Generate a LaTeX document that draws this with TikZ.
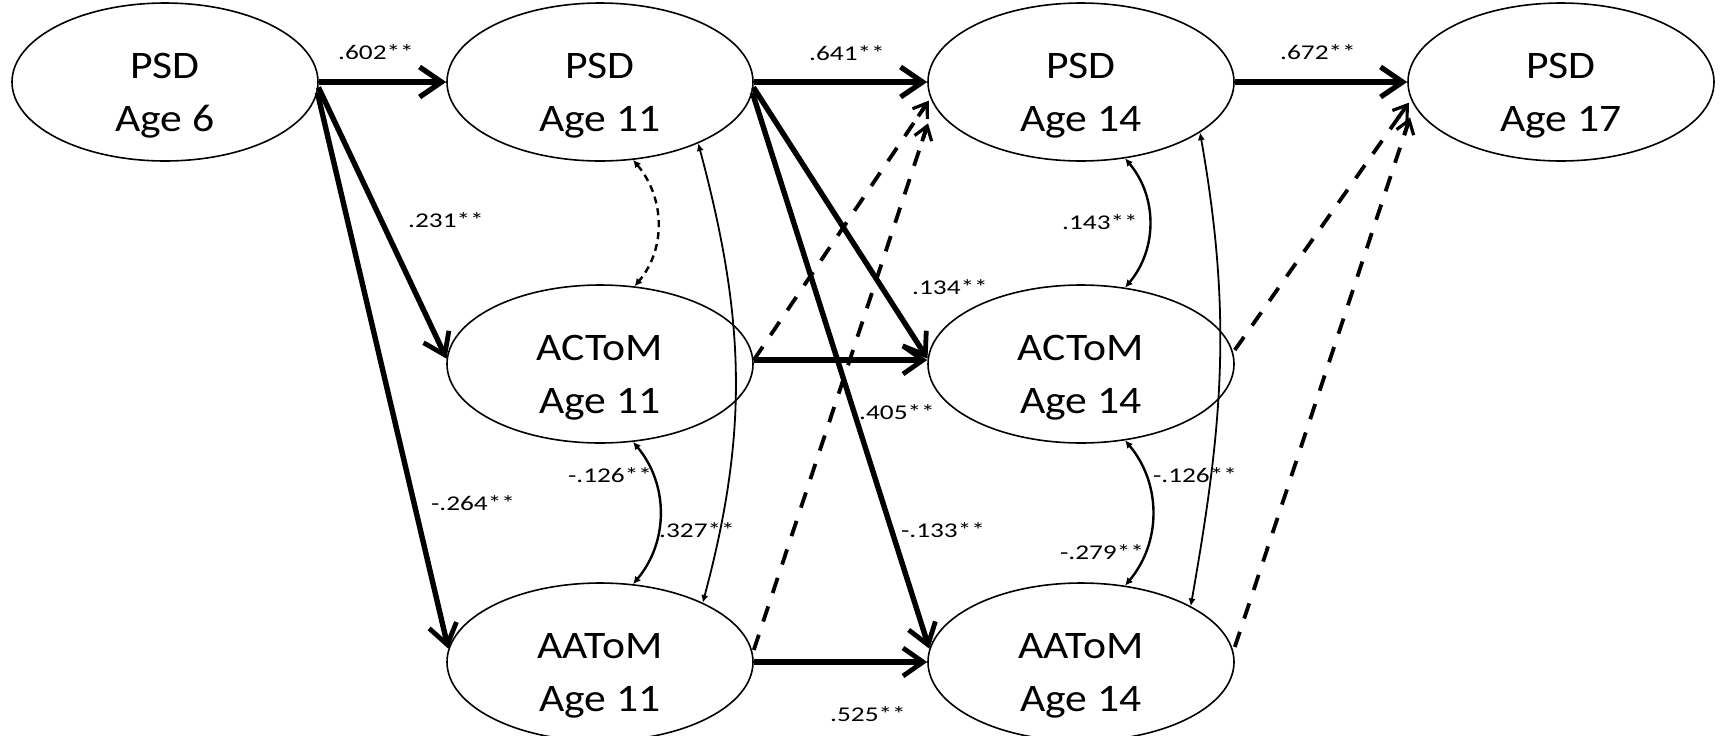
\documentclass[tikz,border=0pt]{standalone}
\usepackage{fontspec}
\setmainfont{Carlito}
\newfontfamily\nodefont{Carlito}[FakeStretch=1.12]
\newfontfamily\labfont{Carlito}[FakeStretch=1.3]
\usetikzlibrary{shapes.geometric,arrows.meta,decorations.markings}
\newcommand\twolines[2]{\rule{0pt}{26pt}#1\\#2}
\begin{document}
\begin{tikzpicture}[x=0.5pt,y=-0.5pt,
  var/.style={ellipse,draw,fill=white,line width=0.8pt,minimum width=153pt,minimum height=71pt,
    inner sep=0pt,align=center,font=\nodefont\fontsize{19.5}{26.5}\selectfont},
  lab/.style={font=\labfont\fontsize{10.5}{12}\selectfont,inner sep=0pt},
  bigarr/.style={line width=3.2pt,-{Straight Barb[length=11pt,width=15pt,line width=2.6pt]}},
  midarr/.style={line width=2.7pt,-{Straight Barb[length=10pt,width=14pt,line width=2.4pt]}},
  dasharr/.style={line width=1.9pt,dash pattern=on 8pt off 7pt,
    postaction={decorate,decoration={markings,mark=at position 1 with
      {\draw[dash pattern=on 100pt off 0pt,line width=1.6pt,line join=miter,line cap=butt]
        (-6.5pt,4.5pt) -- (0,0) -- (-6.5pt,-4.5pt);
       \draw[dash pattern=on 100pt off 0pt,line width=1.9pt] (-8pt,0) -- (-0.5pt,0);}}}},
  cov/.style={line width=1.2pt,{Latex[length=3.8pt,width=3.8pt]}-{Latex[length=3.8pt,width=3.8pt]}},
  thincov/.style={line width=0.9pt,{Latex[length=3.8pt,width=3.6pt]}-{Latex[length=3.8pt,width=3.6pt]}},
]
\useasboundingbox (0,0) rectangle (1725,735);

% nodes
\node[var] (p6)  at (165,82)  {\twolines{PSD}{Age 6}};
\node[var] (p11) at (600,82)  {\twolines{PSD}{Age 11}};
\node[var] (p14) at (1081,82) {\twolines{PSD}{Age 14}};
\node[var] (p17) at (1561,82) {\twolines{PSD}{Age 17}};
\node[var] (c11) at (600,364) {\twolines{ACToM}{Age 11}};
\node[var] (c14) at (1081,364) {\twolines{ACToM}{Age 14}};
\node[var] (a11) at (600,662) {\twolines{AAToM}{Age 11}};
\node[var] (a14) at (1081,662) {\twolines{AAToM}{Age 14}};

% regression paths
\draw[bigarr] (p6.east) -- (p11.west);
\draw[midarr] (p6.-2) -- (c11.178);
\draw[midarr] (p6.-4) -- (a11.175);
\draw[bigarr] (p11.east) -- (p14.west);
\draw[midarr] (p11.-2) -- (c14.178);
\draw[midarr] (p11.-4) -- (a14.175);
\draw[midarr] ([yshift=2pt]c11.east) -- ([yshift=2pt]c14.west);
\draw[midarr] (a11.east) -- (a14.west);
\draw[bigarr] (p14.east) -- (p17.west);

% dashed paths
\draw[dasharr] ([yshift=2pt]c11.east) -- ([yshift=-10.5pt]p14.west);
\draw[dasharr] ([yshift=6pt]a11.east) -- ([xshift=0pt,yshift=-22pt]p14.west);
\draw[dasharr] ([yshift=7pt]c14.east) -- ([yshift=-11.5pt]p17.west);
\draw[dasharr] ([yshift=7.5pt]a14.east) -- ([xshift=1pt,yshift=-19pt]p17.west);

% covariances
\draw[cov,dash pattern=on 3.5pt off 2.5pt] (p11.-67) to[out=-50,in=50] (c11.66);
\draw[cov] (c11.-67) to[out=-50,in=50] (a11.67);
\draw[thincov] (p11.-32) to[out=-75,in=75] (a11.30);
\draw[cov] (p14.-60) to[out=-50,in=50] (c14.60);
\draw[cov] (c14.-60) to[out=-50,in=50] (a14.60);
\draw[thincov] (p14.-23) to[out=-80,in=80] (a14.27);

% labels
\node[lab] (l602) at (376,52) {.602**};
\node[lab] (l641) at (847,53) {.641**};
\node[lab] (l672) at (1318,52) {.672**};
\node[lab] (l231) at (446,220) {.231**};
\node[lab] (l264) at (473,503) {-.264**};
\node[lab] (l134) at (950,287) {.134**};
\node[lab] (l405) at (897,412) {.405**};
\node[lab] (l133) at (943,530) {-.133**};
\node[lab] (l525) at (868,714) {.525**};
\node[lab] (l126a) at (610,475) {-.126**};
\node[lab] (l327) at (697,530) {.327**};
\node[lab] (l143) at (1100,222) {.143**};
\node[lab] (l279) at (1102,552) {-.279**};
\node[lab] (l126b) at (1195,475) {-.126**};
\end{tikzpicture}
\end{document}
